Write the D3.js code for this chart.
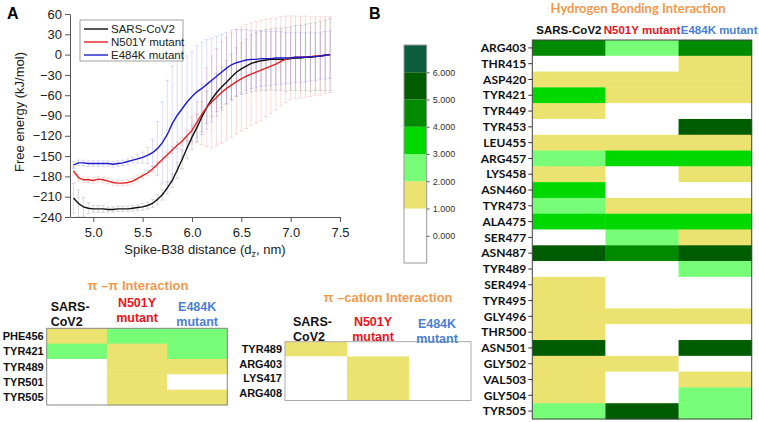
<!DOCTYPE html>
<html><head><meta charset="utf-8">
<script src="https://cdn.jsdelivr.net/npm/d3@7"></script>
<style>body{margin:0;background:#fff}svg{display:block}</style>
</head><body><svg id="c" width="759" height="422"></svg>
<script>
// ---------------- DATA ----------------
const distance = [4.80,4.85,4.90,4.95,5.00,5.05,5.10,5.15,5.20,5.25,5.30,5.35,5.40,5.45,5.50,5.55,5.60,5.65,5.70,5.75,5.80,5.85,5.90,5.95,6.00,6.05,6.10,6.15,6.20,6.25,6.30,6.35,6.40,6.45,6.50,6.55,6.60,6.65,6.70,6.75,6.80,6.85,6.90,6.95,7.00,7.05,7.10,7.15,7.20,7.25,7.30,7.35,7.40];
const sarsEnergy = [-212,-220,-225,-227,-228,-228,-228,-229,-229,-228,-228,-228,-227,-226,-225,-223,-220,-214,-207,-197,-186,-171,-155,-138,-122,-108,-92,-78,-66,-56,-48,-41,-33,-26,-21,-17,-13,-11,-9,-8,-7,-7,-7,-7,-6,-5,-5,-4,-4,-3,-2,-1,0];
const sarsErr = [22,20,14,8,5,5,5,4,4,4,4,4,4,4,5,5,6,7,8,9,10,12,14,16,18,20,22,24,26,28,30,32,34,36,38,40,42,43,44,45,45,46,46,47,47,48,48,49,50,50,51,52,53];
const n501yEnergy = [-172,-182,-185,-185,-186,-184,-185,-187,-189,-190,-190,-189,-187,-183,-179,-175,-169,-162,-155,-148,-141,-134,-128,-120,-112,-100,-88,-78,-70,-63,-56,-50,-45,-40,-36,-32,-29,-26,-23,-20,-17,-14,-10,-7,-5,-4,-4,-3,-3,-2,-2,-1,0];
const n501yErr = [6,5,4,4,4,4,4,4,4,4,4,4,4,4,4,4,4,4,4,4,5,5,6,8,20,30,45,58,68,72,75,76,77,77,77,77,76,75,74,72,70,68,66,64,62,61,60,60,59,58,58,57,56];
const e484kEnergy = [-163,-160,-160,-161,-161,-161,-161,-161,-162,-161,-160,-158,-156,-154,-152,-149,-145,-139,-130,-118,-102,-90,-80,-70,-62,-55,-50,-44,-38,-32,-26,-20,-15,-12,-10,-8,-7,-7,-6,-6,-6,-5,-5,-5,-5,-4,-4,-4,-3,-3,-2,-1,0];
const e484kErr = [5,4,4,4,4,4,4,4,4,4,4,4,4,6,8,12,20,40,60,80,85,82,75,68,66,68,68,66,62,59,56,53,51,49,47,45,43,42,41,40,40,39,39,38,38,37,37,36,36,35,35,35,35];
const seriesNames = ["SARS-CoV2","N501Y mutant","E484K mutant"];
const xTicks = [5.0,5.5,6.0,6.5,7.0,7.5];
const yTicks = [-240,-210,-180,-150,-120,-90,-60,-30,0,30,60];

const variants = ["SARS-CoV2","N501Y mutant","E484K mutant"];

const piPiResidues = ["PHE456","TYR421","TYR489","TYR501","TYR505"];
const piPiSars  = [1.5,2.5,0,0,0];
const piPiN501Y = [2.5,1.5,1.5,1.5,1.5];
const piPiE484K = [2.5,2.5,1.5,0,1.5];

const piCatResidues = ["TYR489","ARG403","LYS417","ARG408"];
const piCatSars  = [1.5,0,0,0];
const piCatN501Y = [0,1.5,1.5,1.5];
const piCatE484K = [0,0,0,0];

const hbResidues = ["ARG403","THR415","ASP420","TYR421","TYR449","TYR453","LEU455","ARG457","LYS458","ASN460","TYR473","ALA475","SER477","ASN487","TYR489","SER494","TYR495","GLY496","THR500","ASN501","GLY502","VAL503","GLY504","TYR505"];
const hbSars  = [4.5,0,1.5,3.5,1.5,0,1.5,2.5,1.5,3.5,2.5,3.5,0,5.5,0,1.5,1.5,1.5,1.5,5.5,1.5,1.5,1.5,2.5];
const hbN501Y = [2.5,0,1.5,1.5,0,0,1.5,3.5,0,0,1.5,3.5,2.5,4.5,0,0,0,1.5,0,0,1.5,0,0,5.5];
const hbE484K = [4.5,1.5,1.5,1.5,0,5.5,1.5,3.5,1.5,0,1.5,3.5,1.5,5.5,2.5,0,0,1.5,0,5.5,0,1.5,2.5,2.5];

const scaleBreaks = [1,2,3,4,5,6];
const scaleColors = ["#ffffff","#ece270","#78fd78","#00d900","#008a00","#005c00","#0c5c3e"];
const scaleTicks = [0,1,2,3,4,5,6];

// ---------------- DRAW ----------------
const svg = d3.select("#c");
const F = "'Liberation Sans', Arial, sans-serif";
const colorScale = d3.scaleThreshold().domain(scaleBreaks).range(scaleColors);

// ===== Panel A =====
const x = d3.scaleLinear().domain([4.764, 7.5]).range([70, 340]);
const y = d3.scaleLinear().domain([-240, 60]).range([217, 14]);

const seriesDefs = [
  {name: seriesNames[0], v: sarsEnergy, e: sarsErr, line: "#111111", err: "rgba(140,140,140,0.3)"},
  {name: seriesNames[1], v: n501yEnergy, e: n501yErr, line: "#e02424", err: "rgba(235,110,110,0.24)"},
  {name: seriesNames[2], v: e484kEnergy, e: e484kErr, line: "#1c1cc8", err: "rgba(110,110,235,0.24)"}
];

const gA = svg.append("g");
seriesDefs.forEach(s => {
  const g = gA.append("g").attr("stroke", s.err).attr("stroke-width", 1);
  distance.forEach((d, i) => {
    const px = x(d), top = y(s.v[i] + s.e[i]), bot = y(s.v[i] - s.e[i]);
    g.append("line").attr("x1", px).attr("x2", px).attr("y1", top).attr("y2", bot);
    g.append("line").attr("x1", px - 2).attr("x2", px + 2).attr("y1", top).attr("y2", top);
    g.append("line").attr("x1", px - 2).attr("x2", px + 2).attr("y1", bot).attr("y2", bot);
  });
});
seriesDefs.forEach(s => {
  gA.append("path")
    .attr("d", d3.line().x((d, i) => x(d)).y((d, i) => y(s.v[i]))(distance))
    .attr("fill", "none").attr("stroke", s.line).attr("stroke-width", 1.4);
});

const xAxis = gA.append("g").attr("transform", "translate(0,217)")
  .call(d3.axisBottom(x).tickValues(xTicks).tickFormat(d3.format(".1f")).tickSize(5).tickSizeOuter(0));
const yAxis = gA.append("g").attr("transform", "translate(70,0)")
  .call(d3.axisLeft(y).tickValues(yTicks).tickSize(5).tickSizeOuter(0));
[xAxis, yAxis].forEach(a => {
  a.selectAll("path,line").attr("stroke", "#555");
  a.selectAll("text").attr("font-family", F).attr("font-size", 13).attr("fill", "#222");
});
xAxis.selectAll("text").attr("dy", "0.95em");

const xl = gA.append("text").attr("x", 205).attr("y", 254).attr("text-anchor", "middle")
  .attr("font-family", F).attr("font-size", 13).attr("fill", "#222");
xl.append("tspan").text("Spike-B38 distance (d");
xl.append("tspan").text("z").attr("font-size", 9).attr("dy", 3);
xl.append("tspan").text(", nm)").attr("dy", -3);
gA.append("text").attr("transform", "translate(24,112) rotate(-90)").attr("text-anchor", "middle")
  .attr("font-family", F).attr("font-size", 13).attr("fill", "#222").text("Free energy (kJ/mol)");

// legend
const lg = gA.append("g");
lg.append("rect").attr("x", 80).attr("y", 20).attr("width", 103).attr("height", 41)
  .attr("fill", "#fff").attr("stroke", "#888").attr("stroke-width", 0.8);
seriesDefs.forEach((s, i) => {
  const ly = 29 + i * 13;
  lg.append("line").attr("x1", 84).attr("x2", 108).attr("y1", ly).attr("y2", ly)
    .attr("stroke", s.line).attr("stroke-width", 1.4);
  lg.append("text").attr("x", 111).attr("y", ly + 4).attr("font-family", F).attr("font-size", 11.5)
    .attr("fill", "#222").text(s.name);
});

svg.append("text").attr("x", 7).attr("y", 19).attr("font-family", F).attr("font-weight", "bold")
  .attr("font-size", 16).text("A");
svg.append("text").attr("x", 369).attr("y", 19).attr("font-family", F).attr("font-weight", "bold")
  .attr("font-size", 16).text("B");

// ===== Heatmap helper =====
const orange = "#ef9a4e";
const headColors = ["#111111", "#e8141c", "#4a7fd4"];

function heat(residues, colsVals, box, labelFont, labelSize, tick) {
  const cx = d3.scaleBand().domain(variants).range([box.x0, box.x1]);
  const cy = d3.scaleBand().domain(residues).range([box.y0, box.y1]);
  const g = svg.append("g");
  variants.forEach((v, j) => {
    residues.forEach((r, i) => {
      g.append("rect").attr("x", cx(v)).attr("y", cy(r))
        .attr("width", cx.bandwidth() + 0.4).attr("height", cy.bandwidth() + 0.4)
        .attr("fill", colorScale(colsVals[j][i]));
    });
  });
  g.append("rect").attr("x", box.x0).attr("y", box.y0).attr("width", box.x1 - box.x0)
    .attr("height", box.y1 - box.y0).attr("fill", "none").attr("stroke", box.border).attr("stroke-width", 1);
  residues.forEach(r => {
    const yy = cy(r) + cy.bandwidth() / 2;
    if (tick) g.append("line").attr("x1", box.x0 - 4).attr("x2", box.x0).attr("y1", yy).attr("y2", yy)
      .attr("stroke", "#333");
    g.append("text").attr("x", box.x0 - (tick ? 6 : 3)).attr("y", yy).attr("dy", "0.35em")
      .attr("text-anchor", "end").attr("font-family", labelFont).attr("font-weight", "bold")
      .attr("font-size", labelSize).attr("fill", "#111").text(r);
  });
  return cx;
}

// ===== pi-pi =====
svg.append("text").attr("x", 138).attr("y", 290).attr("text-anchor", "middle")
  .attr("font-family", F).attr("font-weight", "bold").attr("font-size", 13).attr("fill", orange)
  .text("π –π Interaction");
const cxPP = heat(piPiResidues, [piPiSars, piPiN501Y, piPiE484K],
  {x0: 46.7, x1: 227.3, y0: 328.3, y1: 405, border: "#888"}, F, 11, false);
function twoLineHeaders(cx, yTop, offs) {
  const lines = [["SARS-", "CoV2"], ["N501Y", "mutant"], ["E484K", "mutant"]];
  variants.forEach((v, j) => {
    const t = svg.append("text").attr("font-family", F).attr("font-weight", "bold")
      .attr("font-size", 12.5).attr("fill", headColors[j]);
    const anchorStart = j === 0;
    const xx = anchorStart ? cx(v) + offs[0] : cx(v) + cx.bandwidth() / 2 + offs[j];
    t.attr("text-anchor", anchorStart ? "start" : "middle");
    t.append("tspan").attr("x", xx).attr("y", yTop[j]).text(lines[j][0]);
    t.append("tspan").attr("x", xx).attr("y", yTop[j] + 15).text(lines[j][1]);
  });
}
twoLineHeaders(cxPP, [311, 307, 311], [4, 0, 0]);

// ===== pi-cation =====
svg.append("text").attr("x", 388).attr("y", 302).attr("text-anchor", "middle")
  .attr("font-family", F).attr("font-weight", "bold").attr("font-size", 13).attr("fill", orange)
  .text("π –cation Interaction");
const cxPC = heat(piCatResidues, [piCatSars, piCatN501Y, piCatE484K],
  {x0: 285, x1: 471, y0: 341.7, y1: 400.5, border: "#aaa"}, F, 11, false);
twoLineHeaders(cxPC, [326, 326, 328], [8, -5, -3]);

// ===== Hydrogen bonding =====
svg.append("text").attr("x", 638).attr("y", 13).attr("text-anchor", "middle")
  .attr("font-family", "Lato, 'Open Sans', sans-serif").attr("font-weight", "bold").attr("font-size", 13)
  .attr("fill", orange).text("Hydrogen Bonding Interaction");
const cxHB = heat(hbResidues, [hbSars, hbN501Y, hbE484K],
  {x0: 532.3, x1: 751.7, y0: 40, y1: 419, border: "#444"}, "Lato, 'Open Sans', sans-serif", 12, true);
variants.forEach((v, j) => {
  svg.append("text").attr("x", cxHB(v) + cxHB.bandwidth() / 2 + (j === 2 ? 4 : 0)).attr("y", 34)
    .attr("text-anchor", "middle").attr("font-family", F).attr("font-weight", "bold")
    .attr("font-size", 11.5).attr("fill", headColors[j]).text(v);
});

// ===== color scale bar =====
const sy = d3.scaleLinear().domain([-1, 7]).range([263, 45]);
const bar = svg.append("g");
const bounds = [-1].concat(scaleBreaks).concat([7]);
for (let k = 0; k < bounds.length - 1; k++) {
  bar.append("rect").attr("x", 404).attr("width", 22.7)
    .attr("y", sy(bounds[k + 1])).attr("height", sy(bounds[k]) - sy(bounds[k + 1]))
    .attr("fill", colorScale((bounds[k] + bounds[k + 1]) / 2));
}
bar.append("rect").attr("x", 404).attr("y", 45).attr("width", 22.7).attr("height", 218)
  .attr("fill", "none").attr("stroke", "#999").attr("stroke-width", 1);
const barAxis = bar.append("g").attr("transform", "translate(426.7,0)")
  .call(d3.axisRight(sy).tickValues(scaleTicks).tickFormat(d3.format(".3f")).tickSize(3).tickSizeOuter(0));
barAxis.select(".domain").remove();
barAxis.selectAll("line").attr("stroke", "#666");
barAxis.selectAll("text").attr("font-family", F).attr("font-size", 9).attr("fill", "#333");
</script>
</body></html>
